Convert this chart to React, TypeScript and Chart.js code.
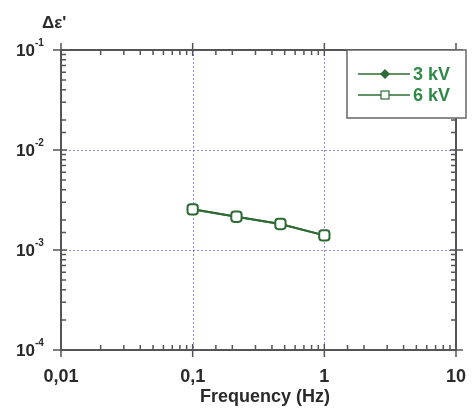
import React, { useEffect, useRef } from "react";
import { Chart, registerables } from "chart.js";

Chart.register(...registerables);

// ---- data ----
const frequencies = [0.1, 0.215, 0.464, 1];
const deltaEps3kV = [0.00255, 0.00215, 0.00182, 0.0014];
const deltaEps6kV = [0.00255, 0.00215, 0.00182, 0.0014];
const seriesLabels = ["3 kV", "6 kV"];
const xTickValues = [0.01, 0.1, 1, 10];
const xTickLabels = ["0,01", "0,1", "1", "10"];
const yTickValues = [1e-4, 1e-3, 1e-2, 1e-1];
const yTickExponents = ["-4", "-3", "-2", "-1"];
const xGridValues = [0.1, 1];
const yGridValues = [1e-3, 1e-2];
const xTitle = "Frequency (Hz)";
const yTitle = "\u0394\u03b5'";

const FONT = "'Liberation Sans', Arial, sans-serif";
const GREEN = "#2e6b34";
const LEGEND_TEXT = "#2f8a48";
const AXIS = "#555";

const isDecade = (v: number) =>
  Math.abs(Math.log10(v) - Math.round(Math.log10(v))) < 1e-6;

const decorPlugin = {
  id: "decor",
  beforeDatasetsDraw(chart: any) {
    const { ctx, chartArea: a } = chart;
    const x = chart.scales.x;
    const y = chart.scales.y;
    ctx.save();
    // dotted grid
    ctx.strokeStyle = "rgba(110,110,230,0.8)";
    ctx.lineWidth = 1;
    ctx.setLineDash([2, 2]);
    xGridValues.forEach((v) => {
      const px = Math.round(x.getPixelForValue(v)) + 0.5;
      ctx.beginPath();
      ctx.moveTo(px, a.top);
      ctx.lineTo(px, a.bottom);
      ctx.stroke();
    });
    yGridValues.forEach((v) => {
      const py = Math.round(y.getPixelForValue(v)) + 0.5;
      ctx.beginPath();
      ctx.moveTo(a.left, py);
      ctx.lineTo(a.right, py);
      ctx.stroke();
    });
    ctx.setLineDash([]);
    // frame
    ctx.strokeStyle = AXIS;
    ctx.lineWidth = 2;
    ctx.strokeRect(a.left, a.top, a.right - a.left, a.bottom - a.top);
    // ticks
    ctx.lineWidth = 1.5;
    x.ticks.forEach((t: any) => {
      const px = x.getPixelForValue(t.value);
      ctx.beginPath();
      if (isDecade(t.value)) {
        ctx.moveTo(px, a.bottom + 7);
        ctx.lineTo(px, a.bottom - 6);
        ctx.moveTo(px, a.top - 7);
        ctx.lineTo(px, a.top + 6);
      } else {
        ctx.moveTo(px, a.bottom);
        ctx.lineTo(px, a.bottom - 5);
        ctx.moveTo(px, a.top);
        ctx.lineTo(px, a.top + 5);
      }
      ctx.stroke();
    });
    y.ticks.forEach((t: any) => {
      const py = y.getPixelForValue(t.value);
      ctx.beginPath();
      if (isDecade(t.value)) {
        ctx.moveTo(a.left - 8, py);
        ctx.lineTo(a.left + 6, py);
        ctx.moveTo(a.right + 7, py);
        ctx.lineTo(a.right - 6, py);
      } else {
        ctx.moveTo(a.left, py);
        ctx.lineTo(a.left + 5, py);
        ctx.moveTo(a.right, py);
        ctx.lineTo(a.right - 5, py);
      }
      ctx.stroke();
    });
    ctx.fillStyle = "#2a2a2a";
    // x tick labels
    ctx.font = `bold 18px ${FONT}`;
    ctx.textAlign = "center";
    ctx.textBaseline = "alphabetic";
    xTickValues.forEach((v, i) => {
      ctx.fillText(xTickLabels[i], x.getPixelForValue(v), a.bottom + 32);
    });
    // y tick labels 10^n
    yTickValues.forEach((v, i) => {
      const py = y.getPixelForValue(v);
      ctx.font = `bold 17px ${FONT}`;
      ctx.textAlign = "right";
      ctx.fillText("10", 35, py + 6);
      ctx.font = `bold 10px ${FONT}`;
      ctx.textAlign = "left";
      ctx.fillText(yTickExponents[i], 35, py - 4);
    });
    // titles
    ctx.font = `bold 17px ${FONT}`;
    ctx.textAlign = "left";
    ctx.fillText(yTitle, 42, 28);
    ctx.font = `bold 18px ${FONT}`;
    ctx.textAlign = "center";
    ctx.fillText(xTitle, 265, 402);
    ctx.restore();
  },
  afterDraw(chart: any) {
    const { ctx } = chart;
    ctx.save();
    const bx = 347, by = 50, bw = 119, bh = 68;
    ctx.fillStyle = "#fff";
    ctx.fillRect(bx, by, bw, bh);
    ctx.strokeStyle = "#666";
    ctx.lineWidth = 1.5;
    ctx.strokeRect(bx, by, bw, bh);
    const rows = [74, 95];
    chart.data.datasets.forEach((ds: any, i: number) => {
      const ry = rows[i];
      ctx.strokeStyle = GREEN;
      ctx.lineWidth = 1.5;
      ctx.beginPath();
      ctx.moveTo(358, ry);
      ctx.lineTo(410, ry);
      ctx.stroke();
      if (i === 0) {
        ctx.fillStyle = GREEN;
        ctx.beginPath();
        ctx.moveTo(385, ry - 5);
        ctx.lineTo(390, ry);
        ctx.lineTo(385, ry + 5);
        ctx.lineTo(380, ry);
        ctx.closePath();
        ctx.fill();
      } else {
        ctx.fillStyle = "#fff";
        ctx.fillRect(381, ry - 4, 8, 8);
        ctx.strokeStyle = GREEN;
        ctx.lineWidth = 1.2;
        ctx.strokeRect(381, ry - 4, 8, 8);
      }
      ctx.fillStyle = LEGEND_TEXT;
      ctx.font = `bold 18px ${FONT}`;
      ctx.textAlign = "left";
      ctx.textBaseline = "middle";
      ctx.fillText(ds.label, 413, ry + 1);
    });
    ctx.restore();
  },
};

export default function App() {
  const ref = useRef<HTMLCanvasElement | null>(null);
  useEffect(() => {
    if (!ref.current) return;
    const chart = new Chart(ref.current, {
      type: "line",
      data: {
        datasets: [
          {
            label: seriesLabels[0],
            data: frequencies.map((f, i) => ({ x: f, y: deltaEps3kV[i] })),
            borderColor: GREEN,
            backgroundColor: GREEN,
            borderWidth: 2,
            pointStyle: "rectRot",
            pointRadius: 4,
            order: 1,
          },
          {
            label: seriesLabels[1],
            data: frequencies.map((f, i) => ({ x: f, y: deltaEps6kV[i] })),
            borderColor: GREEN,
            backgroundColor: "#ffffff",
            borderWidth: 2,
            pointStyle: "rectRounded",
            pointRadius: 6,
            order: 0,
          },
        ],
      },
      options: {
        responsive: false,
        animation: false,
        devicePixelRatio: 1,
        layout: { padding: { left: 61, top: 50, right: 16, bottom: 0 } },
        plugins: { legend: { display: false }, tooltip: { enabled: false } },
        scales: {
          x: {
            type: "logarithmic",
            min: 0.01,
            max: 10,
            grid: { display: false, drawTicks: false },
            border: { display: false },
            ticks: { display: false },
            afterFit: (s: any) => {
              s.height = 64;
            },
          },
          y: {
            type: "logarithmic",
            min: 1e-4,
            max: 1e-1,
            grid: { display: false, drawTicks: false },
            border: { display: false },
            ticks: { display: false },
            afterFit: (s: any) => {
              s.width = 0;
            },
          },
        },
      },
      plugins: [decorPlugin],
    });
    return () => chart.destroy();
  }, []);
  return (
    <div style={{ position: "absolute", left: 0, top: 0, width: 472, height: 414, background: "#fff" }}>
      <canvas ref={ref} width={472} height={414} />
    </div>
  );
}
